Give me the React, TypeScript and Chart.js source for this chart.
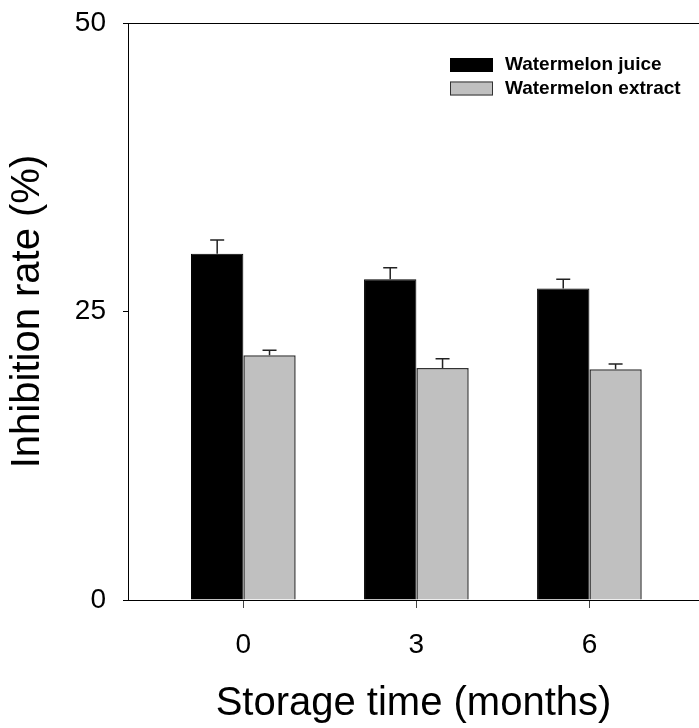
import React, { useEffect, useRef } from "react";
import { Chart, registerables } from "chart.js";

Chart.register(...registerables);

// Storage time (months)
const months = [0, 3, 6];
// Inhibition rate (%) and standard deviations
const juice = [30.0, 27.8, 27.0];
const juiceErr = [1.2, 1.0, 0.8];
const extract = [21.2, 20.1, 20.0];
const extractErr = [0.45, 0.8, 0.45];
const yTicks = [0, 25, 50];

const seriesNames = ["Watermelon juice", "Watermelon extract"];
const errors = [juiceErr, extractErr];
const FONT = "'Liberation Sans', Arial, Helvetica, sans-serif";

const errorBars = {
  id: "errorBars",
  afterDatasetsDraw(chart: any) {
    const ctx = chart.ctx;
    const y = chart.scales.y;
    ctx.save();
    ctx.strokeStyle = "#222";
    ctx.lineWidth = 1.5;
    chart.data.datasets.forEach((ds: any, di: number) => {
      const meta = chart.getDatasetMeta(di);
      meta.data.forEach((bar: any, i: number) => {
        const top = y.getPixelForValue(ds.data[i].y + errors[di][i]);
        ctx.beginPath();
        ctx.moveTo(bar.x, bar.y);
        ctx.lineTo(bar.x, top);
        ctx.moveTo(bar.x - 7, top);
        ctx.lineTo(bar.x + 7, top);
        ctx.stroke();
      });
    });
    ctx.restore();
  },
};

const frameAndLegend = {
  id: "frameAndLegend",
  afterDraw(chart: any) {
    const ctx = chart.ctx;
    const { left, top, right } = chart.chartArea;
    ctx.save();
    // top frame line
    ctx.strokeStyle = "#000";
    ctx.lineWidth = 1;
    ctx.beginPath();
    ctx.moveTo(left - 5, top + 0.5);
    ctx.lineTo(right, top + 0.5);
    ctx.stroke();

    // legend
    const lx = 450;
    const rows = [65, 88.5];
    ctx.font = `bold 19px ${FONT}`;
    ctx.textBaseline = "middle";
    ctx.textAlign = "left";
    chart.data.datasets.forEach((ds: any, i: number) => {
      const cy = rows[i];
      ctx.fillStyle = ds.backgroundColor;
      ctx.fillRect(lx, cy - 7, 43, 14);
      ctx.strokeStyle = ds.borderColor;
      ctx.lineWidth = 1;
      ctx.strokeRect(lx + 0.5, cy - 6.5, 42, 13);
      ctx.fillStyle = "#000";
      ctx.fillText(seriesNames[i], lx + 55, cy);
    });
    ctx.restore();
  },
};

export default function App() {
  const ref = useRef<HTMLCanvasElement | null>(null);

  useEffect(() => {
    if (!ref.current) return;
    const chart = new Chart(ref.current, {
      type: "bar",
      data: {
        datasets: [
          {
            label: seriesNames[0],
            data: months.map((m, i) => ({ x: m, y: juice[i] })),
            backgroundColor: "#000000",
            borderColor: "#000000",
            borderWidth: 1,
          },
          {
            label: seriesNames[1],
            data: months.map((m, i) => ({ x: m, y: extract[i] })),
            backgroundColor: "#c0c0c0",
            borderColor: "#333333",
            borderWidth: 1.5,
          },
        ],
      },
      options: {
        animation: false,
        responsive: true,
        maintainAspectRatio: false,
        devicePixelRatio: 1,
        categoryPercentage: 0.605,
        barPercentage: 1,
        layout: { padding: { top: 23, right: 0, left: 0, bottom: 0 } },
        plugins: {
          legend: { display: false },
          tooltip: { enabled: false },
        },
        scales: {
          x: {
            type: "linear",
            min: -2,
            max: 7.9,
            offset: false,
            afterBuildTicks: (s: any) => {
              s.ticks = months.map((v) => ({ value: v }));
            },
            afterFit: (s: any) => {
              s.height = 128;
              s.paddingLeft = 0;
              s.paddingRight = 0;
            },
            grid: {
              display: true,
              offset: false,
              drawOnChartArea: false,
              drawTicks: true,
              tickLength: 8,
              color: "#000",
              tickColor: "#444",
            },
            border: { display: true, color: "#000", width: 1 },
            ticks: {
              color: "#000",
              font: { family: FONT, size: 28 },
              padding: 20,
              maxRotation: 0,
            },
            title: {
              display: true,
              text: "Storage time (months)",
              color: "#000",
              font: { family: FONT, size: 40 },
              padding: { top: 0, bottom: 0 },
            },
          },
          y: {
            min: 0,
            max: 50,
            afterBuildTicks: (s: any) => {
              s.ticks = yTicks.map((v) => ({ value: v }));
            },
            afterFit: (s: any) => {
              s.width = 128;
              s.paddingTop = 0;
              s.paddingBottom = 0;
            },
            grid: {
              display: true,
              drawOnChartArea: false,
              drawTicks: true,
              tickLength: 5,
              color: "#000",
              tickColor: "#000",
            },
            border: { display: true, color: "#000", width: 1 },
            ticks: {
              color: "#000",
              font: { family: FONT, size: 28 },
              padding: 17,
            },
            title: {
              display: true,
              text: "Inhibition rate (%)",
              color: "#000",
              font: { family: FONT, size: 40 },
              padding: { top: 4, bottom: 0 },
            },
          },
        },
      },
      plugins: [errorBars, frameAndLegend],
    });
    return () => chart.destroy();
  }, []);

  return (
    <div
      style={{
        position: "fixed",
        left: 0,
        top: 0,
        width: 699,
        height: 728,
        background: "#fff",
      }}
    >
      <canvas ref={ref} />
    </div>
  );
}
